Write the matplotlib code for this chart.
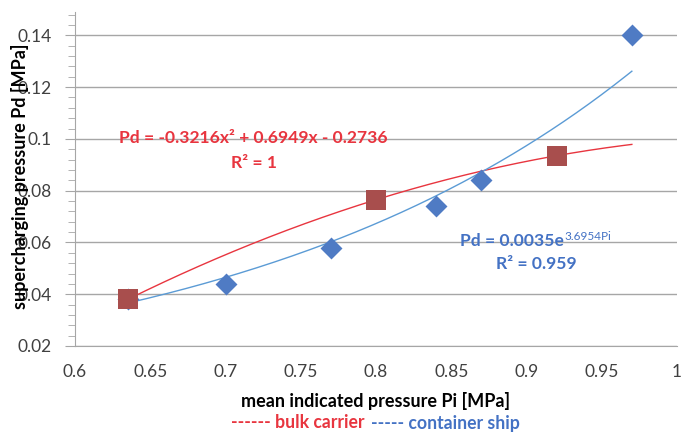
import numpy as np
import matplotlib
matplotlib.use('Agg')
import matplotlib.pyplot as plt
from matplotlib.ticker import MultipleLocator

plt.rcParams['font.family'] = ['Lato', 'DejaVu Sans']

# 数据
bulk_pi = [0.635, 0.80, 0.92]
bulk_pd = [0.038, 0.0765, 0.0935]
cont_pi = [0.635, 0.70, 0.77, 0.84, 0.87, 0.97]
cont_pd = [0.038, 0.044, 0.058, 0.074, 0.084, 0.140]
poly_coef = [-0.3216, 0.6949, -0.2736]
exp_a, exp_b = 0.0035, 3.6954
fit_range = [0.635, 0.97]

x_ticks = [0.6, 0.65, 0.7, 0.75, 0.8, 0.85, 0.9, 0.95, 1.0]
x_labels = ['0.6', '0.65', '0.7', '0.75', '0.8', '0.85', '0.9', '0.95', '1']
y_ticks = [0.02, 0.04, 0.06, 0.08, 0.1, 0.12, 0.14]
y_labels = ['0.02', '0.04', '0.06', '0.08', '0.1', '0.12', '0.14']

W, H = 681, 437
fig = plt.figure(figsize=(W / 100, H / 100), dpi=100)
ax = fig.add_axes([75 / W, 1 - 346 / H, 602 / W, 334 / H])

red = '#E8353F'
blue = '#5B9BD5'
blue_txt = '#4472C4'
grid_c = '#A6A6A6'
txt_c = '#404040'

# 趋势线
xx = np.linspace(fit_range[0], fit_range[1], 200)
ax.plot(xx, np.polyval(poly_coef, xx), color=red, lw=1.0, zorder=2)
ax.plot(xx, exp_a * np.exp(exp_b * xx), color=blue, lw=1.0, zorder=2)

# 数据点
ax.scatter(cont_pi, cont_pd, marker='D', s=125, color='#4F7BC4', zorder=3, linewidths=0)
ax.scatter(bulk_pi, bulk_pd, marker='s', s=200, color='#A84E4D', zorder=4, linewidths=0)

ax.set_xlim(0.6, 1.0)
ax.set_ylim(0.02, 0.149)
ax.set_xticks(x_ticks)
ax.set_xticklabels(x_labels)
ax.set_yticks(y_ticks)
ax.set_yticklabels(y_labels)
ax.yaxis.set_minor_locator(MultipleLocator(0.004))
ax.grid(axis='y', which='major', color=grid_c, lw=1.0)
ax.set_axisbelow(True)
for s in ['top', 'right']:
    ax.spines[s].set_visible(False)
ax.spines['left'].set_color(grid_c)
ax.spines['bottom'].set_color(grid_c)
ax.tick_params(axis='x', length=0, pad=13, labelsize=12.5, labelcolor=txt_c)
ax.tick_params(axis='y', which='major', length=7, color=grid_c, pad=10,
               labelsize=12.5, labelcolor=txt_c)
ax.tick_params(axis='y', which='minor', length=5, color=grid_c)

# 公式标注
fig.text(253 / W, 1 - 138 / H, 'Pd = -0.3216x² + 0.6949x - 0.2736', color=red,
         fontsize=12.6, fontweight='bold', ha='center', va='center')
fig.text(254 / W, 1 - 163 / H, 'R² = 1', color=red,
         fontsize=12.6, fontweight='bold', ha='center', va='center')
base = fig.text(460 / W, 1 - 241 / H, 'Pd = 0.0035e', color=blue_txt,
                fontsize=12.6, fontweight='bold', ha='left', va='center')
fig.canvas.draw()
bb = base.get_window_extent()
fig.text((bb.x1 + 1) / W, (bb.y1 - 3) / H, '3.6954Pi', color=blue_txt,
         fontsize=8.5, ha='left', va='center')
fig.text(536 / W, 1 - 264 / H, 'R² = 0.959', color=blue_txt,
         fontsize=12.6, fontweight='bold', ha='center', va='center')

# 坐标轴标题
fig.text(20 / W, 1 - 176 / H, 'supercharging pressure Pd [MPa]', rotation=90,
         fontsize=13, fontweight='bold', ha='center', va='center', color='black')
fig.text(376 / W, 1 - 401 / H, 'mean indicated pressure Pi [MPa]',
         fontsize=13, fontweight='bold', ha='center', va='center', color='black')
fig.text(364 / W, 1 - 423 / H, '------ bulk carrier', color=red,
         fontsize=12.7, fontweight='bold', ha='right', va='center')
fig.text(371 / W, 1 - 423 / H, '----- container ship', color=blue_txt,
         fontsize=12.7, fontweight='bold', ha='left', va='center')

fig.savefig('out.png', dpi=100)
